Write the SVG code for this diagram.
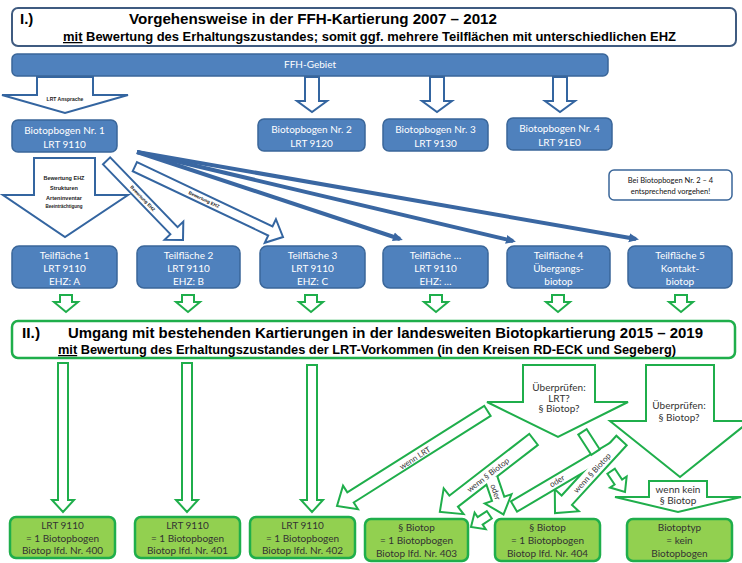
<svg xmlns="http://www.w3.org/2000/svg" width="742" height="563" viewBox="0 0 742 563">
<defs>
<style>
.hdr1{fill:#fff;stroke:#3f5b80;stroke-width:2}
.hdr2{fill:#fff;stroke:#1fae4b;stroke-width:2.5}
.ht{font-family:"Liberation Sans",Arial,sans-serif;font-weight:bold;fill:#000}
.bn{fill:#4f81bd;stroke:#3a6699;stroke-width:1.5}
.bt{font-family:Lato,"Liberation Sans",sans-serif;font-size:10px;fill:#fff;text-anchor:middle}
.barrow{fill:#fff;stroke:#3465a0;stroke-width:2;stroke-linejoin:miter}
.bline{stroke:#3a67a2;stroke-width:4;fill:none;marker-end:url(#bh)}
.tiny{font-family:"Liberation Sans",Arial,sans-serif;font-weight:bold;fill:#222;text-anchor:middle}
.gn{fill:#92d050;stroke:#1fae4b;stroke-width:2.5}
.garrow{fill:#fff;stroke:#1fae4b;stroke-width:2;stroke-linejoin:miter}
.garrow4{fill:#fff;stroke:#1fae4b;stroke-width:4;stroke-linejoin:miter}
.gfill{fill:#fff;stroke:none}
.gt{font-family:Lato,"Liberation Sans",sans-serif;font-size:10px;fill:#333;text-anchor:middle}
.dt{font-family:Lato,"Liberation Sans",sans-serif;font-size:8px;fill:#333;text-anchor:middle}
.nt{font-family:Lato,"Liberation Sans",sans-serif;font-size:7.5px;fill:#111;text-anchor:middle}
.note{fill:#fff;stroke:#3a6699;stroke-width:1.5}
</style>
<marker id="bh" markerWidth="10" markerHeight="10" viewBox="0 0 10 10" refX="7" refY="5" orient="auto" markerUnits="userSpaceOnUse"><path d="M0,0.5 L10,5 L0,9.5 z" fill="#3a67a2"/></marker>
</defs>
<rect width="742" height="563" fill="#fff"/>

<g id="connectors">
  <!-- LRT Ansprache -->
  <polygon class="barrow" points="37,77 93,77 93,95 128,95 65,113 2,95 37,95"/>
  <text x="65" y="101" class="tiny" font-size="5">LRT Ansprache</text>
  <!-- FFH to Biotopbogen 2-4 -->
  <polygon class="barrow" points="305,77 319,77 319,101 327,101 312,112 297,101 305,101"/>
  <polygon class="barrow" points="430,77 444,77 444,101 452,101 437,112 422,101 430,101"/>
  <polygon class="barrow" points="553,77 567,77 567,101 575,101 560,112 545,101 553,101"/>
  <!-- Bewertung EHZ big -->
  <polygon class="barrow" points="34,158 95,158 95,195 128,195 65,237 3,195 34,195"/>
  <text x="64" y="180" class="tiny" font-size="5.5">Bewertung EHZ</text>
  <text x="64" y="190" class="tiny" font-size="5.5">Strukturen</text>
  <text x="64" y="200" class="tiny" font-size="5.5">Arteninventar</text>
  <text x="64" y="207.5" class="tiny" font-size="4.5">Beeinträchtigung</text>
  <!-- Bewertung EHZ diagonals -->
  <polygon class="barrow" transform="translate(183,240) rotate(46)" points="-110,-5 -13,-5 -13,-13 0,0 -13,13 -13,5 -110,5"/>
  <text class="tiny" font-size="4.5" transform="translate(142.7,198.3) rotate(46)" dy="0.35em">Bewertung EHZ</text>
  <polygon class="barrow" transform="translate(283,237) rotate(25.4)" points="-164,-5 -14,-5 -14,-13 0,0 -14,13 -14,5 -164,5"/>
  <text class="tiny" font-size="4.5" transform="translate(204,199.5) rotate(25.4)" dy="0.35em">Bewertung EHZ</text>
  <!-- thick lines -->
  <line x1="137" y1="152" x2="400" y2="239" class="bline"/>
  <line x1="137" y1="152" x2="513" y2="241" class="bline"/>
  <line x1="137" y1="152" x2="636" y2="239" class="bline"/>
  <!-- green small arrows under Teilflächen -->
  <polygon class="garrow" points="60,295 72,295 72,302 78,302 66,312 54,302 60,302"/>
  <polygon class="garrow" points="182,295 194,295 194,302 200,302 188,312 176,302 182,302"/>
  <polygon class="garrow" points="305,295 317,295 317,302 323,302 311,312 299,302 305,302"/>
  <polygon class="garrow" points="430,295 442,295 442,302 448,302 436,312 424,302 430,302"/>
  <polygon class="garrow" points="552,295 564,295 564,302 570,302 558,312 546,302 552,302"/>
  <polygon class="garrow" points="675,295 687,295 687,302 693,302 681,312 669,302 675,302"/>
  <!-- long green arrows -->
  <polygon class="garrow" points="58,363 68,363 68,500 74,500 63,512 52,500 58,500"/>
  <polygon class="garrow" points="182,363 192,363 192,500 198,500 187,512 176,500 182,500"/>
  <polygon class="garrow" points="307,365 317,365 317,500 323,500 312,512 301,500 307,500"/>
  <!-- wenn LRT -->
  <polygon class="garrow" transform="translate(337,506) rotate(147.7)" points="-178,-6 -16,-6 -16,-14 0,0 -16,14 -16,6 -178,6"/>
  <text class="dt" transform="translate(415,458) rotate(-32.3)" dy="0.35em">wenn LRT</text>
  <!-- wenn § Biotop left + oder branch -->
  <polygon class="garrow4" transform="translate(441,511) rotate(142.3)" points="-116,-6 -15,-6 -15,-14 0,0 -15,14 -15,6 -116,6"/>
  <polygon class="garrow4" transform="translate(503,513) rotate(71.1)" points="-37,-5.5 -14,-5.5 -14,-12 0,0 -14,12 -14,5.5 -37,5.5"/>
  <polygon class="gfill" transform="translate(441,511) rotate(142.3)" points="-116,-6 -15,-6 -15,-14 0,0 -15,14 -15,6 -116,6"/>
  <polygon class="gfill" transform="translate(503,513) rotate(71.1)" points="-37,-5.5 -14,-5.5 -14,-12 0,0 -14,12 -14,5.5 -37,5.5"/>
  <text class="dt" transform="translate(488,475) rotate(-37.7)" dy="0.35em">wenn § Biotop</text>
  <text class="dt" transform="translate(495.5,492) rotate(71.1)" dy="0.35em">oder</text>
  <!-- oder bar + wenn § Biotop right -->
  <polygon class="garrow4" transform="translate(566.5,475.5) rotate(-30.6)" points="-60,-5 60,-5 60,5 -60,5"/>
  <polygon class="garrow4" transform="translate(556,512) rotate(132.5)" points="-96,-6 -15,-6 -15,-14 0,0 -15,14 -15,6 -96,6"/>
  <polygon class="gfill" transform="translate(566.5,475.5) rotate(-30.6)" points="-60,-5 60,-5 60,5 -60,5"/>
  <polygon class="gfill" transform="translate(556,512) rotate(132.5)" points="-96,-6 -15,-6 -15,-14 0,0 -15,14 -15,6 -96,6"/>
  <text class="dt" transform="translate(557,481) rotate(-30.6)" dy="0.35em">oder</text>
  <text class="dt" transform="translate(592,473) rotate(-47.5)" dy="0.35em">wenn § Biotop</text>
  <!-- small pieces -->
  <polygon class="garrow" transform="translate(471,527) rotate(146.3)" points="-22,-4.5 -11,-4.5 -11,-10 0,0 -11,10 -11,4.5 -22,4.5"/>
  <rect class="garrow" transform="translate(589,442) rotate(57)" x="-12" y="-5" width="24" height="10"/>
  <polygon class="garrow" transform="translate(625,492) rotate(56.3)" points="-25,-4.5 -12,-4.5 -12,-10 0,0 -12,10 -12,4.5 -25,4.5"/>
</g>

<g id="header-1">
  <rect x="12" y="8" width="724" height="38" rx="6" class="hdr1"/>
  <text x="20" y="24" class="ht" font-size="15">I.)</text>
  <text x="129" y="24" class="ht" font-size="15" textLength="368" lengthAdjust="spacingAndGlyphs">Vorgehensweise in der FFH-Kartierung 2007 – 2012</text>
  <text x="63" y="41" class="ht" font-size="12.5" textLength="613" lengthAdjust="spacingAndGlyphs"><tspan text-decoration="underline">mit</tspan> Bewertung des Erhaltungszustandes; somit ggf. mehrere Teilflächen mit unterschiedlichen EHZ</text>
</g>

<g id="ffh-gebiet">
  <rect x="12" y="54" width="596" height="22" rx="5" class="bn"/>
  <text x="310" y="68" class="bt" font-size="7.5">FFH-Gebiet</text>
</g>

<g id="biotopbogen-1"><rect x="12" y="120" width="105" height="32" rx="6" class="bn"/><text x="64.5" y="134" class="bt">Biotopbogen Nr. 1</text><text x="64.5" y="148" class="bt">LRT 9110</text></g>
<g id="biotopbogen-2"><rect x="258" y="119" width="107" height="32" rx="6" class="bn"/><text x="311.5" y="133" class="bt">Biotopbogen Nr. 2</text><text x="311.5" y="147" class="bt">LRT 9120</text></g>
<g id="biotopbogen-3"><rect x="383" y="119" width="105" height="32" rx="6" class="bn"/><text x="435.5" y="133" class="bt">Biotopbogen Nr. 3</text><text x="435.5" y="147" class="bt">LRT 9130</text></g>
<g id="biotopbogen-4"><rect x="507" y="118" width="105" height="32" rx="6" class="bn"/><text x="559.5" y="132" class="bt">Biotopbogen Nr. 4</text><text x="559.5" y="146" class="bt">LRT 91E0</text></g>

<g id="note"><rect x="609" y="170" width="123" height="30" rx="5" class="note"/><text x="670.5" y="183" class="nt">Bei Biotopbogen Nr. 2 – 4</text><text x="670.5" y="194" class="nt">entsprechend vorgehen!</text></g>

<g id="teilflaeche-1"><rect x="12" y="246" width="105" height="42" rx="7" class="bn"/><text x="64.5" y="258.5" class="bt" font-size="9.5">Teilfläche 1</text><text x="64.5" y="271.5" class="bt" font-size="9.5">LRT 9110</text><text x="64.5" y="285" class="bt" font-size="9.5">EHZ: A</text></g>
<g id="teilflaeche-2"><rect x="137" y="246" width="103" height="42" rx="7" class="bn"/><text x="188.5" y="258.5" class="bt" font-size="9.5">Teilfläche 2</text><text x="188.5" y="271.5" class="bt" font-size="9.5">LRT 9110</text><text x="188.5" y="285" class="bt" font-size="9.5">EHZ: B</text></g>
<g id="teilflaeche-3"><rect x="260" y="246" width="105" height="42" rx="7" class="bn"/><text x="312.5" y="258.5" class="bt" font-size="9.5">Teilfläche 3</text><text x="312.5" y="271.5" class="bt" font-size="9.5">LRT 9110</text><text x="312.5" y="285" class="bt" font-size="9.5">EHZ: C</text></g>
<g id="teilflaeche-n"><rect x="383" y="246" width="105" height="42" rx="7" class="bn"/><text x="435.5" y="258.5" class="bt" font-size="9.5">Teilfläche …</text><text x="435.5" y="271.5" class="bt" font-size="9.5">LRT 9110</text><text x="435.5" y="285" class="bt" font-size="9.5">EHZ: …</text></g>
<g id="teilflaeche-4"><rect x="507" y="246" width="103" height="42" rx="7" class="bn"/><text x="558.5" y="258.5" class="bt" font-size="9.5">Teilfläche 4</text><text x="558.5" y="271.5" class="bt" font-size="9.5">Übergangs-</text><text x="558.5" y="285" class="bt" font-size="9.5">biotop</text></g>
<g id="teilflaeche-5"><rect x="628" y="246" width="104" height="42" rx="7" class="bn"/><text x="680" y="258.5" class="bt" font-size="9.5">Teilfläche 5</text><text x="680" y="271.5" class="bt" font-size="9.5">Kontakt-</text><text x="680" y="285" class="bt" font-size="9.5">biotop</text></g>

<g id="header-2">
  <rect x="12" y="321" width="723" height="37" rx="6" class="hdr2"/>
  <text x="22" y="338" class="ht" font-size="15.5">II.)</text>
  <text x="68" y="338" class="ht" font-size="15.5" textLength="635" lengthAdjust="spacingAndGlyphs">Umgang mit bestehenden Kartierungen in der landesweiten Biotopkartierung 2015 – 2019</text>
  <text x="58" y="354" class="ht" font-size="12.5" textLength="618" lengthAdjust="spacingAndGlyphs"><tspan text-decoration="underline">mit</tspan> Bewertung des Erhaltungszustandes der LRT-Vorkommen (in den Kreisen RD-ECK und Segeberg)</text>
</g>

<g id="check-lrt-biotop">
  <polygon class="garrow" points="523,365 595,365 595,402 628,402 558,437 487,402 523,402"/>
  <text x="559" y="390.5" class="gt" font-size="9.5">Überprüfen:</text>
  <text x="559" y="401.5" class="gt" font-size="9.5">LRT?</text>
  <text x="559" y="412" class="gt" font-size="9.5">§ Biotop?</text>
</g>
<g id="check-biotop">
  <polygon class="garrow" points="646,365 714,365 714,421 750,421 680,477 610,421 646,421"/>
  <text x="679" y="408.5" class="gt" font-size="9.5">Überprüfen:</text>
  <text x="679" y="420.5" class="gt" font-size="9.5">§ Biotop?</text>
</g>
<g id="wenn-kein-biotop">
  <polygon class="garrow" points="649,481 707,481 707,497 741,497 678,512 615,497 649,497"/>
  <text x="678" y="493" class="gt" font-size="8.5">wenn kein</text>
  <text x="678" y="503.5" class="gt" font-size="8.5">§ Biotop</text>
</g>

<g id="biotop-400"><rect x="10" y="517" width="105" height="41" rx="6" class="gn"/><text x="62.5" y="529" class="gt">LRT 9110</text><text x="62.5" y="542" class="gt">= 1 Biotopbogen</text><text x="62.5" y="554" class="gt">Biotop lfd. Nr. 400</text></g>
<g id="biotop-401"><rect x="135" y="517" width="105" height="41" rx="6" class="gn"/><text x="187.5" y="529" class="gt">LRT 9110</text><text x="187.5" y="542" class="gt">= 1 Biotopbogen</text><text x="187.5" y="554" class="gt">Biotop lfd. Nr. 401</text></g>
<g id="biotop-402"><rect x="250" y="517" width="105" height="41" rx="6" class="gn"/><text x="302.5" y="529" class="gt">LRT 9110</text><text x="302.5" y="542" class="gt">= 1 Biotopbogen</text><text x="302.5" y="554" class="gt">Biotop lfd. Nr. 402</text></g>
<g id="biotop-403"><rect x="365" y="519" width="103" height="42" rx="6" class="gn"/><text x="416.5" y="531" class="gt">§ Biotop</text><text x="416.5" y="544" class="gt">= 1 Biotopbogen</text><text x="416.5" y="557" class="gt">Biotop lfd. Nr. 403</text></g>
<g id="biotop-404"><rect x="495" y="519" width="105" height="42" rx="6" class="gn"/><text x="547.5" y="531" class="gt">§ Biotop</text><text x="547.5" y="544" class="gt">= 1 Biotopbogen</text><text x="547.5" y="557" class="gt">Biotop lfd. Nr. 404</text></g>
<g id="biotoptyp"><rect x="627" y="519" width="105" height="42" rx="6" class="gn"/><text x="679.5" y="531" class="gt">Biotoptyp</text><text x="679.5" y="544" class="gt">= kein</text><text x="679.5" y="557" class="gt">Biotopbogen</text></g>
</svg>
